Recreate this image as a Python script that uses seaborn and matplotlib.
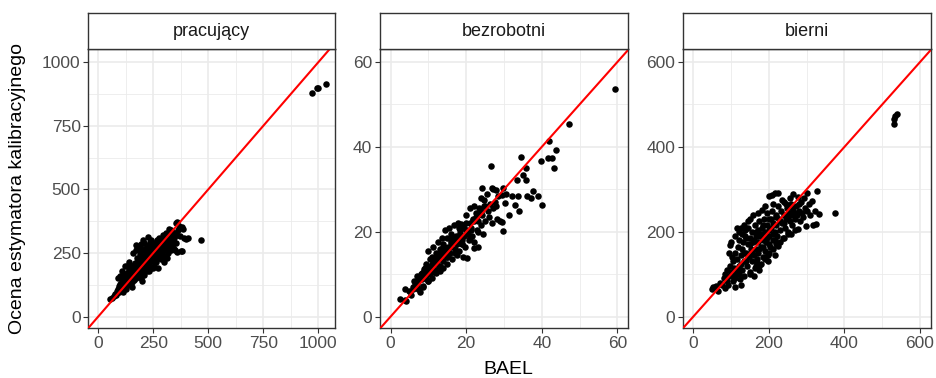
import matplotlib
matplotlib.use("Agg")
import matplotlib.pyplot as plt
from matplotlib.ticker import FixedLocator
import seaborn as sns
import pandas as pd

sns.set_theme(style="white")
plt.rcParams["font.family"] = ["Liberation Sans", "DejaVu Sans"]

# --- pracujący: BAEL vs calibration estimate ---
prac_bael = [55, 62, 70, 75, 80, 85, 88, 90, 95, 98, 100, 102, 105, 108, 110, 112, 115, 118, 120, 122,
             125, 128, 130, 132, 135, 138, 140, 142, 145, 148, 152, 150, 152, 155, 158, 160, 162, 165, 168, 170,
             172, 175, 178, 174, 180, 182, 185, 188, 190, 192, 195, 198, 200, 202, 205, 208, 210, 210, 212, 215,
             218, 220, 222, 225, 227, 230, 232, 235, 238, 240, 242, 245, 248, 250, 252, 255, 258, 260, 262, 265,
             268, 270, 272, 275, 278, 280, 282, 285, 288, 290, 292, 295, 298, 300, 302, 305, 308, 310, 312, 315,
             318, 320, 322, 325, 328, 330, 332, 335, 338, 340, 345, 348, 350, 352, 355, 358, 360, 362, 356, 370,
             374, 379, 369, 385, 390, 400, 409, 467, 970, 993, 1000, 1034,
             105, 112, 120, 128, 135, 140, 145, 150, 155, 160, 165, 170, 175, 180, 185, 190, 195, 200, 205, 210,
             215, 220, 225, 230, 235, 240, 245, 250, 255, 260, 265, 270, 275, 280, 285, 290, 295, 300, 305, 310,
             320, 330, 340, 255, 235, 195, 165, 145, 118, 95,
             91, 121, 110, 100, 130, 140, 160, 170, 185, 195, 205, 152, 200, 230, 250, 273, 300, 311, 379, 345]
prac_kal = [70, 75, 80, 90, 85, 100, 95, 110, 120, 105, 130, 115, 100, 140, 125, 95, 150, 135, 120, 160,
            145, 110, 170, 150, 130, 185, 160, 140, 195, 175, 118, 155, 135, 200, 180, 160, 145, 210, 190, 170,
            150, 230, 200, 281, 180, 160, 220, 245, 195, 170, 150, 235, 210, 260, 185, 165, 290, 240, 220, 200,
            270, 250, 180, 230, 313, 210, 280, 260, 190, 240, 300, 220, 270, 250, 200, 290, 235, 265, 215, 300,
            245, 280, 230, 260, 310, 240, 285, 225, 270, 300, 250, 320, 230, 280, 260, 300, 240, 330, 270, 290,
            250, 346, 310, 275, 300, 340, 260, 320, 285, 300, 310, 260, 330, 368, 290, 320, 255, 340, 372, 315,
            257, 352, 358, 345, 310, 305, 309, 303, 880, 898, 900, 913,
            115, 130, 140, 135, 155, 175, 150, 180, 165, 195, 175, 200, 185, 215, 190, 225, 205, 240, 220, 205,
            245, 225, 255, 240, 225, 270, 250, 280, 260, 240, 275, 255, 290, 270, 295, 265, 280, 300, 275, 295,
            285, 310, 330, 230, 295, 265, 155, 125, 165, 95,
            151, 197, 180, 160, 200, 215, 250, 260, 270, 285, 300, 197, 140, 180, 190, 190, 215, 229, 259, 265]

# --- bezrobotni ---
bezr_bael = [2.5, 3.8, 4.2, 3.8, 5, 5.5, 6, 6.2, 6.5, 7, 7, 7.2, 7.8, 8, 8.2, 8.5, 8.6, 9, 9, 9.3,
             9.5, 9.8, 10, 10, 10.3, 10.5, 10.8, 11, 11, 11.3, 11.5, 11.8, 12, 12, 12.3, 12.5, 12.8, 13, 13, 13.3,
             13.5, 13.8, 14, 14, 14.3, 14.5, 14.8, 15, 15, 15.3, 15.5, 15.8, 16, 16.2, 16.5, 16.8, 17, 17.2, 17.5, 17.8,
             18, 18.2, 18.5, 18.8, 19, 19.2, 19.5, 19.8, 20, 20.2, 20.5, 20.8, 21, 21.2, 21.5, 21.8, 22, 22.2, 22.5, 22.8,
             23, 23.2, 23.5, 23.8, 24, 24.3, 24.5, 24.8, 25, 25.5, 25.8, 26, 26.3, 26.5, 26.8, 27, 27.2, 27.5, 28, 28.2,
             28.5, 29, 29.4, 29.8, 29.8, 30.3, 30.5, 31.3, 32.1, 32.9, 33.4, 33.8, 34, 34.5, 35.1, 35.7, 35.8, 36, 37.1, 37.8,
             39.1, 39.7, 40, 41.6, 41.9, 42.8, 43.3, 43.7, 47.3, 59.4, 26.9, 24.3, 29.4,
             6, 7, 8, 9, 10, 11, 12, 13, 14, 15, 16, 17, 18, 19, 20, 21, 22, 23, 24, 25,
             9.5, 11.5, 13, 15, 17, 19, 21, 23, 16, 18, 20, 22, 12, 14, 10, 7.5, 8.8, 24.8, 27.8,
             6.8, 7.6, 8.4, 9.2, 10.2, 10.9, 11.7, 12.6, 13.4, 14.2, 15.1, 15.9, 16.7, 17.6, 18.4, 19.3,
             20.1, 21.4, 22.6, 8.9, 11.1, 13.6, 16.1, 18.7, 21.9]
bezr_kal = [4.2, 3.9, 3.8, 6.5, 6, 5.2, 7, 8.5, 7.5, 9.5, 8, 6.5, 5.7, 10, 8.8, 7.2, 6.9, 11.5, 10.2, 9,
            12.5, 8.5, 11, 15.5, 13.5, 10, 12, 14, 9.2, 16.5, 12.8, 11, 15, 10.2, 13.5, 17.5, 12, 16, 10.8, 14.2,
            18.5, 13, 17, 11.5, 15.5, 20.5, 14, 18.5, 12.5, 16.5, 21, 15, 19.5, 13.5, 17.5, 21.5, 16, 19, 14.5, 22,
            18, 15.5, 20.5, 17, 21.5, 14, 19, 16.5, 22, 13.8, 20, 18, 25.5, 21, 19, 23, 17.5, 16.2, 24.5, 20.5,
            22.5, 16.5, 25.5, 21.5, 28, 24, 19.5, 26, 22.5, 29, 25, 23.5, 26.5, 35.4, 22, 30, 25.5, 27, 26, 23,
            28.5, 22.5, 28.7, 30.3, 20.2, 26.7, 29, 24, 28.5, 26.3, 32.2, 28.5, 25, 37.7, 33.4, 35.1, 32.1, 28.5, 28, 29.7,
            28.5, 36.7, 26.2, 37.4, 41.4, 37.4, 35.1, 39.3, 45.4, 53.6, 30.4, 30.3, 22.4,
            6.5, 7.5, 9, 9.5, 10.5, 11.5, 12.5, 13.5, 14.5, 15.5, 16.5, 17.5, 19, 18, 20.5, 22, 22.5, 24, 25, 26,
            11, 10.5, 12, 14, 15, 17, 18.5, 20, 18.5, 21, 24, 26, 14, 16.5, 8.5, 9, 10.8, 27.5, 29.8,
            8.2, 8.6, 10.3, 10.1, 11.6, 12.3, 13.1, 14.7, 15.2, 16.4, 14.2, 17.8, 18.2, 17.1, 19.7, 20.8,
            19.4, 20.3, 23.4, 11.2, 13.9, 14.8, 17.4, 21.9, 22.8]

# --- bierni ---
bier_bael = [50, 53, 60, 65, 70, 75, 80, 84, 85, 88, 90, 92, 95, 97, 98, 100, 102, 104, 105, 108,
             110, 112, 115, 115, 118, 120, 122, 124, 125, 128, 130, 130, 132, 135, 136, 138, 140, 142, 145, 145,
             148, 150, 150, 152, 155, 155, 158, 159, 160, 162, 162, 165, 165, 168, 170, 170, 172, 175, 175, 178,
             180, 181, 182, 185, 185, 188, 190, 190, 192, 195, 195, 198, 200, 200, 202, 205, 208, 208, 210, 210,
             212, 215, 215, 218, 220, 222, 225, 225, 225, 228, 230, 232, 235, 238, 240, 240, 242, 245, 248, 250,
             252, 255, 258, 258, 260, 262, 265, 268, 270, 272, 275, 278, 278, 280, 282, 285, 288, 290, 292, 295,
             298, 300, 300, 305, 310, 313, 318, 322, 325, 327, 333, 375, 530, 532, 535, 538,
             105, 115, 125, 135, 140, 150, 160, 165, 170, 180, 185, 195, 200, 205, 210, 220, 230, 240, 250, 260,
             270, 280, 175, 185, 200, 120, 110, 140, 155, 245, 235, 255, 265, 215, 190,
             150, 165, 180, 190, 200, 210, 220, 230, 240, 250, 175, 160, 135, 125, 110,
             110, 120, 125, 135, 145, 150, 170, 190, 200, 215, 100, 95, 168, 198]
bier_kal = [65, 69, 72, 60, 80, 75, 90, 67, 100, 85, 110, 75, 95, 169, 120, 105, 140, 85, 130, 115,
            150, 100, 208, 135, 165, 120, 180, 88, 145, 195, 110, 160, 175, 130, 205, 190, 150, 120, 170, 210,
            140, 185, 100, 160, 200, 130, 175, 240, 145, 215, 115, 190, 160, 135, 205, 175, 150, 225, 120, 190,
            165, 252, 210, 140, 180, 230, 200, 155, 175, 245, 215, 130, 190, 230, 165, 210, 287, 250, 180, 266,
            220, 200, 145, 240, 215, 190, 292, 167, 260, 230, 205, 250, 220, 185, 270, 240, 210, 230, 255, 200,
            245, 225, 194, 265, 240, 215, 250, 230, 205, 260, 240, 283, 206, 250, 225, 270, 245, 235, 280, 255,
            214, 291, 248, 265, 240, 273, 216, 250, 219, 297, 241, 244, 455, 465, 472, 478,
            95, 110, 125, 150, 185, 170, 180, 200, 190, 195, 215, 185, 205, 230, 195, 235, 225, 220, 235, 255,
            245, 265, 160, 165, 170, 100, 90, 130, 150, 265, 275, 280, 290, 180, 135,
            105, 120, 125, 140, 150, 160, 170, 175, 185, 195, 110, 95, 95, 75, 71,
            190, 200, 210, 215, 225, 230, 245, 260, 285, 292, 175, 150, 126, 145]

panel_titles = ["pracujący", "bezrobotni", "bierni"]
x_values = [prac_bael, bezr_bael, bier_bael]
y_values = [prac_kal, bezr_kal, bier_kal]

# per-panel axis settings
limits = [((-45, 1076), (-46, 1051)), ((-2.8, 62.9), (-2.75, 63.0)), ((-28, 629), (-27.5, 630))]
major_ticks = [[0, 250, 500, 750, 1000], [0, 20, 40, 60], [0, 200, 400, 600]]
minor_ticks = [[125, 375, 625, 875], [10, 30, 50], [100, 300, 500]]

W, H = 936, 378
fig = plt.figure(figsize=(W / 100, H / 100), dpi=100)

panel_px = [(88.3, 335.0), (380.0, 628.3), (682.7, 931.0)]
panel_top, panel_bottom, strip_top = 49.3, 328.3, 12.7

grid_col = "#EBEBEB"
border_col = "#333333"

for i, (left, right) in enumerate(panel_px):
    ax = fig.add_axes([left / W, 1 - panel_bottom / H, (right - left) / W, (panel_bottom - panel_top) / H])
    df = pd.DataFrame({"BAEL": x_values[i], "kal": y_values[i]})
    sns.scatterplot(data=df, x="BAEL", y="kal", ax=ax, color="black", s=22, linewidth=0, zorder=3)
    ax.axline((0, 0), slope=1, color="red", lw=1.5, zorder=4)
    (x0, x1), (y0, y1) = limits[i]
    ax.set_xlim(x0, x1)
    ax.set_ylim(y0, y1)
    ax.xaxis.set_major_locator(FixedLocator(major_ticks[i]))
    ax.yaxis.set_major_locator(FixedLocator(major_ticks[i]))
    ax.xaxis.set_minor_locator(FixedLocator(minor_ticks[i]))
    ax.yaxis.set_minor_locator(FixedLocator(minor_ticks[i]))
    ax.grid(True, which="major", color=grid_col, lw=1.2, zorder=0)
    ax.grid(True, which="minor", color=grid_col, lw=0.6, zorder=0)
    ax.set_axisbelow(True)
    ax.set_xlabel("")
    ax.set_ylabel("")
    ax.set_facecolor("white")
    for sp in ax.spines.values():
        sp.set_color(border_col)
        sp.set_linewidth(1.0)
        sp.set_visible(True)
    ax.tick_params(which="major", length=3.5, width=0.8, color=border_col,
                   labelsize=12.5, labelcolor="#4D4D4D", pad=2, bottom=True, left=True)
    ax.tick_params(which="minor", length=0)

    # facet strip
    sax = fig.add_axes([left / W, 1 - panel_top / H, (right - left) / W, (panel_top - strip_top) / H])
    sax.set_xticks([])
    sax.set_yticks([])
    sax.set_facecolor("white")
    for sp in sax.spines.values():
        sp.set_color(border_col)
        sp.set_linewidth(1.0)
    sax.text(0.5, 0.48, panel_titles[i], ha="center", va="center", fontsize=13, color="#1A1A1A",
             transform=sax.transAxes)

fig.text(508 / W, 1 - 369 / H, "BAEL", ha="center", va="center", fontsize=14, color="black")
fig.text(18 / W, 1 - 188 / H, "Ocena estymatora kalibracyjnego", ha="center", va="center",
         rotation=90, fontsize=14, color="black")

fig.savefig("out.png", dpi=100)
